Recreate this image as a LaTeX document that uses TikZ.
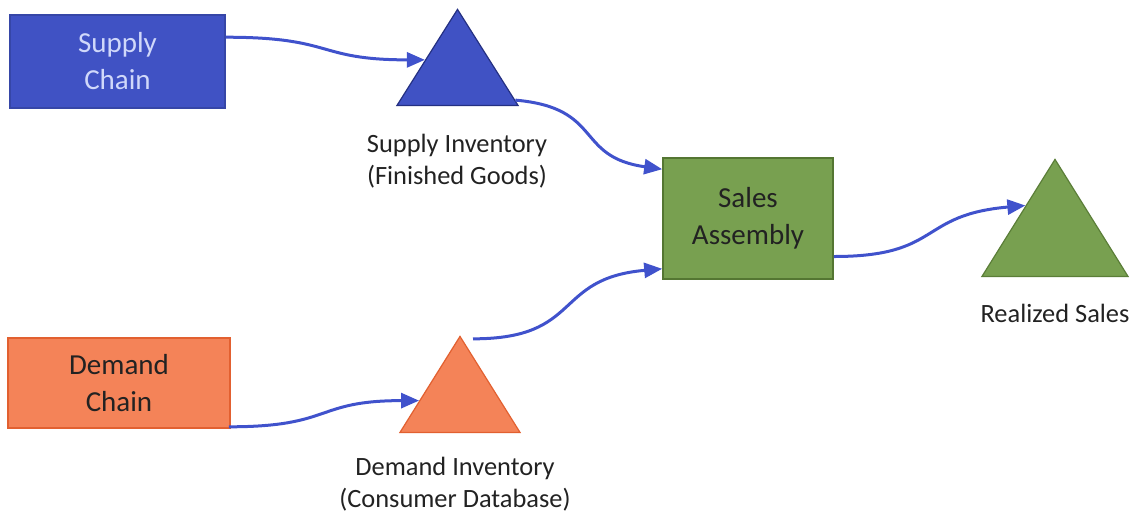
\documentclass[tikz,border=0pt]{standalone}
\usepackage{fontspec}
\setmainfont{Carlito}
\usepackage{tikz}
\usetikzlibrary{shapes.geometric,arrows.meta,calc}

\definecolor{supblue}{RGB}{64,82,196}
\definecolor{supline}{RGB}{36,48,130}
\definecolor{suptext}{RGB}{208,216,250}
\definecolor{salgreen}{RGB}{120,160,80}
\definecolor{salline}{RGB}{84,118,50}
\definecolor{demorange}{RGB}{244,131,88}
\definecolor{demline}{RGB}{226,96,48}
\definecolor{flowblue}{RGB}{64,82,204}
\definecolor{textgray}{RGB}{34,34,34}

\tikzset{
  chainbox/.style={draw, rectangle, line width=0.8pt, align=center, inner sep=0pt,
    font=\fontsize{14.5}{18.5}\selectfont, text=textgray},
  stock/.style={draw, isosceles triangle, isosceles triangle stretches,
    shape border rotate=90, inner sep=0pt, anchor=lower side, line width=0.6pt},
  tag/.style={align=center, font=\fontsize{13.2}{16}\selectfont, text=textgray},
  flow/.style={draw=flowblue, line width=1.5pt,
    -{Triangle[length=9pt,width=7.5pt]}, looseness=1.4}
}

\begin{document}
\begin{tikzpicture}[x=0.5pt,y=-0.5pt]
\useasboundingbox (0,0) rectangle (1136,516);

% sources
\node[chainbox, fill=supblue, draw=supblue!85!black, text=suptext,
  minimum width=107.5pt, minimum height=46.5pt] (sc) at (117.5,61.5) {Supply\\Chain};
\node[chainbox, fill=demorange, draw=demline,
  minimum width=111pt, minimum height=45pt] (dc) at (119,383) {Demand\\Chain};

% inventories
\node[stock, fill=supblue, draw=supline, minimum width=60.5pt, minimum height=48pt] (sinv) at (457.5,106) {};
\node[stock, fill=demorange, draw=demline, minimum width=60pt, minimum height=48pt] (dinv) at (460,433) {};
\node[tag] (sinvlbl) at (457,161) {Supply Inventory\\(Finished Goods)};
\node[tag] (dinvlbl) at (455,484) {Demand Inventory\\(Consumer Database)};

% assembly and result
\node[chainbox, fill=salgreen, draw=salline,
  minimum width=85pt, minimum height=60.5pt] (sa) at (748,218.5) {Sales\\Assembly};
\node[stock, fill=salgreen, draw=salline!80!salgreen, minimum width=73pt, minimum height=58.5pt] (rs) at (1055,277) {};
\node[tag] (rslbl) at (1055,313) {Realized Sales};

% flows
\draw[flow] ([yshift=-11.5pt]sc.north east) to[out=0,in=180]
  ($(sinv.left corner)!0.47!(sinv.apex)$);
\draw[flow] ($(sinv.right corner)!0.06!(sinv.apex)$) to[out=-5,in=172]
  ([yshift=-6pt]sa.north west);
\draw[flow] ([xshift=-1pt,yshift=1pt]dc.south east) to[out=0,in=180]
  ($(dinv.left corner)!0.33!(dinv.apex)$);
\draw[flow] ([xshift=6.5pt,yshift=-2pt]dinv.apex) to[out=0,in=185]
  ([yshift=5.5pt]sa.south west);
\draw[flow] ([yshift=-19pt]sa.east) to[out=0,in=185]
  ($(rs.left corner)!0.6!(rs.apex)$);

\end{tikzpicture}
\end{document}
